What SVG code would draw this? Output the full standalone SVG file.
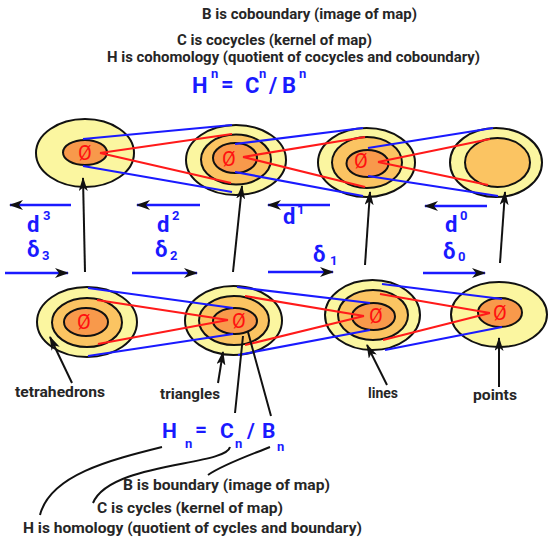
<svg xmlns="http://www.w3.org/2000/svg" width="548" height="537" viewBox="0 0 548 537">
<style>
.o{fill:#fbf6a0;stroke:#111;stroke-width:2}
.m{fill:#fbc462;stroke:#111;stroke-width:2}
.i{fill:#f8994b;stroke:#111;stroke-width:2}
.z{font-family:Roboto,"Liberation Sans",sans-serif;font-size:20px;fill:#ff1010;text-anchor:middle}
.t{font-family:Roboto,"Liberation Sans",sans-serif;font-size:14.5px;font-weight:bold;fill:#262626}
.f{font-family:Roboto,"Liberation Sans",sans-serif;font-weight:bold;fill:#1a1aff}
.b{stroke:#1a1aff;stroke-width:2.2;fill:none}
.r{stroke:#ff1a1a;stroke-width:2.2;fill:none}
.k{stroke:#111;stroke-width:2;fill:none}
.ba{stroke:#1a1aff;stroke-width:2.5;fill:none;marker-end:url(#ah)}
.va{stroke:#111;stroke-width:2;fill:none;marker-end:url(#av)}
</style>
<defs>
<marker id="ah" viewBox="0 0 14 10" refX="13" refY="5" markerWidth="14" markerHeight="10" markerUnits="userSpaceOnUse" orient="auto"><path d="M0,0 L14,5 L0,10 L4,5 z" fill="#111"/></marker>
<marker id="av" viewBox="0 0 14 9" refX="13" refY="4.5" markerWidth="14" markerHeight="9" markerUnits="userSpaceOnUse" orient="auto"><path d="M0,0 L14,4.5 L0,9 L3.5,4.5 z" fill="#111"/></marker>
</defs>
<rect width="548" height="537" fill="#fff"/>

<g id="title-top">
<text class="t" x="202" y="19" textLength="215" lengthAdjust="spacingAndGlyphs">B is coboundary (image of map)</text>
<text class="t" x="177" y="45" textLength="195" lengthAdjust="spacingAndGlyphs">C is cocycles (kernel of map)</text>
<text class="t" x="107" y="62" textLength="373" lengthAdjust="spacingAndGlyphs">H is cohomology (quotient of cocycles and coboundary)</text>
</g>
<g id="formula-top" class="f">
<text x="192" y="93" font-size="22">H</text>
<text x="211" y="78" font-size="13">n</text>
<text x="221" y="91" font-size="22">=</text>
<text x="245" y="93" font-size="22">C</text>
<text x="259" y="78" font-size="13">n</text>
<text x="269" y="93" font-size="22">/</text>
<text x="282" y="93" font-size="22">B</text>
<text x="299" y="78" font-size="13">n</text>
</g>

<g id="t3"><ellipse class="o" cx="85" cy="153" rx="49" ry="34"/><ellipse class="i" cx="85" cy="152.5" rx="22" ry="12.5"/><text class="z" x="85" y="160">Ø</text></g>
<g id="t2"><ellipse class="o" cx="236" cy="160" rx="50" ry="35"/><ellipse class="m" cx="236" cy="159.5" rx="35" ry="25"/><ellipse class="i" cx="235" cy="158" rx="22" ry="15"/><text class="z" x="229" y="166">Ø</text></g>
<g id="t1"><ellipse class="o" cx="366.5" cy="162.5" rx="48.5" ry="34.5"/><ellipse class="m" cx="367" cy="162.5" rx="35" ry="25.5"/><ellipse class="i" cx="367.5" cy="163.5" rx="21" ry="13.5"/><text class="z" x="361" y="168">Ø</text></g>
<g id="t0"><ellipse class="o" cx="496" cy="162.5" rx="46" ry="34.5"/><ellipse class="m" cx="497.5" cy="162.5" rx="32.5" ry="24.5"/></g>

<g id="tetrahedrons"><ellipse class="o" cx="87" cy="322" rx="50" ry="35"/><ellipse class="m" cx="87" cy="322.5" rx="35" ry="24.5"/><ellipse class="i" cx="86" cy="322" rx="22" ry="14"/><text class="z" x="84" y="329">Ø</text></g>
<g id="triangles"><ellipse class="o" cx="233.5" cy="320.5" rx="48.5" ry="34.5"/><ellipse class="m" cx="234" cy="320.5" rx="35" ry="24.5"/><ellipse class="i" cx="235" cy="321" rx="22" ry="13"/><text class="z" x="239" y="328">Ø</text></g>
<g id="lines"><ellipse class="o" cx="372.5" cy="315" rx="47.5" ry="35"/><ellipse class="m" cx="373" cy="315" rx="35" ry="25"/><ellipse class="i" cx="373.5" cy="316.5" rx="21.5" ry="13.5"/><text class="z" x="376" y="323">Ø</text></g>
<g id="points"><ellipse class="o" cx="499" cy="314.5" rx="48" ry="32.5"/><ellipse class="i" cx="500" cy="312.5" rx="22" ry="14.5"/><text class="z" x="500" y="320">Ø</text></g>

<g id="connectors">
<path class="b" d="M83,139 L232,125 M83,166 L232,192"/>
<path class="r" d="M100,153 L232,134 M100,153 L231,183"/>
<path class="b" d="M235,144 L363,128 M235,172 L363,196"/>
<path class="r" d="M243,157 L365,137 M243,157 L365,187"/>
<path class="b" d="M368,148 L493,128 M368,176 L498,196"/>
<path class="r" d="M378,162 L490,139 M378,162 L488,185"/>

<path class="b" d="M88,288 L233,308 M88,356 L233,334"/>
<path class="r" d="M97,300 L228,320 M98,344 L228,320"/>
<path class="b" d="M237,287 L370,303 M238,355 L370,330"/>
<path class="r" d="M245,296 L364,316 M245,345 L364,316"/>
<path class="b" d="M382,284 L502,299 M385,350 L502,327"/>
<path class="r" d="M380,294 L490,313 M383,340 L490,313"/>

<path class="ba" d="M71,205 L10,205"/>
<path class="ba" d="M200,205 L137,205"/>
<path class="ba" d="M330,205 L268,205"/>
<path class="ba" d="M487,206 L425,206"/>
<path class="ba" d="M5,273 L68,273"/>
<path class="ba" d="M132,273 L197,273"/>
<path class="ba" d="M268,272 L333,272"/>
<path class="ba" d="M423,273 L485,273"/>

<path class="va" d="M85,272 L83,178"/>
<path class="va" d="M233,272 L242,186"/>
<path class="va" d="M365,265 L370,192"/>
<path class="va" d="M500,263 L505,192"/>

<path class="va" d="M72,383 L50,337"/>
<path class="va" d="M218,383 L223,352"/>
<path class="va" d="M387,385 L367,345"/>
<path class="va" d="M499,387 L499,338"/>

<path class="k" d="M243,336 L235,413 M248,332 L271,416"/>
<path class="k" d="M162,447 C110,460 50,475 40,515"/>
<path class="k" d="M230,447 C226,466 110,462 93,503"/>
<path class="k" d="M270,447 C245,457 222,465 208,475"/>
</g>

<g id="labels">
<text class="t" x="15" y="397" textLength="90" lengthAdjust="spacingAndGlyphs">tetrahedrons</text>
<text class="t" x="160" y="399" textLength="60" lengthAdjust="spacingAndGlyphs">triangles</text>
<text class="t" x="368" y="398" textLength="30" lengthAdjust="spacingAndGlyphs">lines</text>
<text class="t" x="473" y="400" textLength="44" lengthAdjust="spacingAndGlyphs">points</text>
</g>

<g id="maps" class="f">
<text x="27" y="232" font-size="22">d</text><text x="43" y="220" font-size="13">3</text>
<text x="27" y="257" font-size="22">δ</text><text x="42" y="260" font-size="13">3</text>
<text x="157" y="232" font-size="22">d</text><text x="172" y="220" font-size="13">2</text>
<text x="155" y="257" font-size="22">δ</text><text x="170" y="260" font-size="13">2</text>
<text x="283" y="224" font-size="22">d</text><text x="297" y="214" font-size="13">1</text>
<text x="313" y="262" font-size="22">δ</text><text x="330" y="265" font-size="13">1</text>
<text x="445" y="232" font-size="22">d</text><text x="460" y="220" font-size="13">0</text>
<text x="443" y="259" font-size="22">δ</text><text x="458" y="261" font-size="13">0</text>
</g>

<g id="formula-bottom" class="f">
<text x="162" y="438" font-size="21">H</text>
<text x="185" y="448" font-size="13">n</text>
<text x="195" y="436" font-size="21">=</text>
<text x="220" y="438" font-size="21">C</text>
<text x="235" y="448" font-size="13">n</text>
<text x="247" y="438" font-size="21">/</text>
<text x="262" y="438" font-size="21">B</text>
<text x="277" y="451" font-size="13">n</text>
</g>

<g id="title-bottom">
<text class="t" x="123" y="490" textLength="207" lengthAdjust="spacingAndGlyphs">B is boundary (image of map)</text>
<text class="t" x="97" y="513" textLength="186" lengthAdjust="spacingAndGlyphs">C is cycles (kernel of map)</text>
<text class="t" x="23" y="533" textLength="339" lengthAdjust="spacingAndGlyphs">H is homology (quotient of cycles and boundary)</text>
</g>
</svg>
